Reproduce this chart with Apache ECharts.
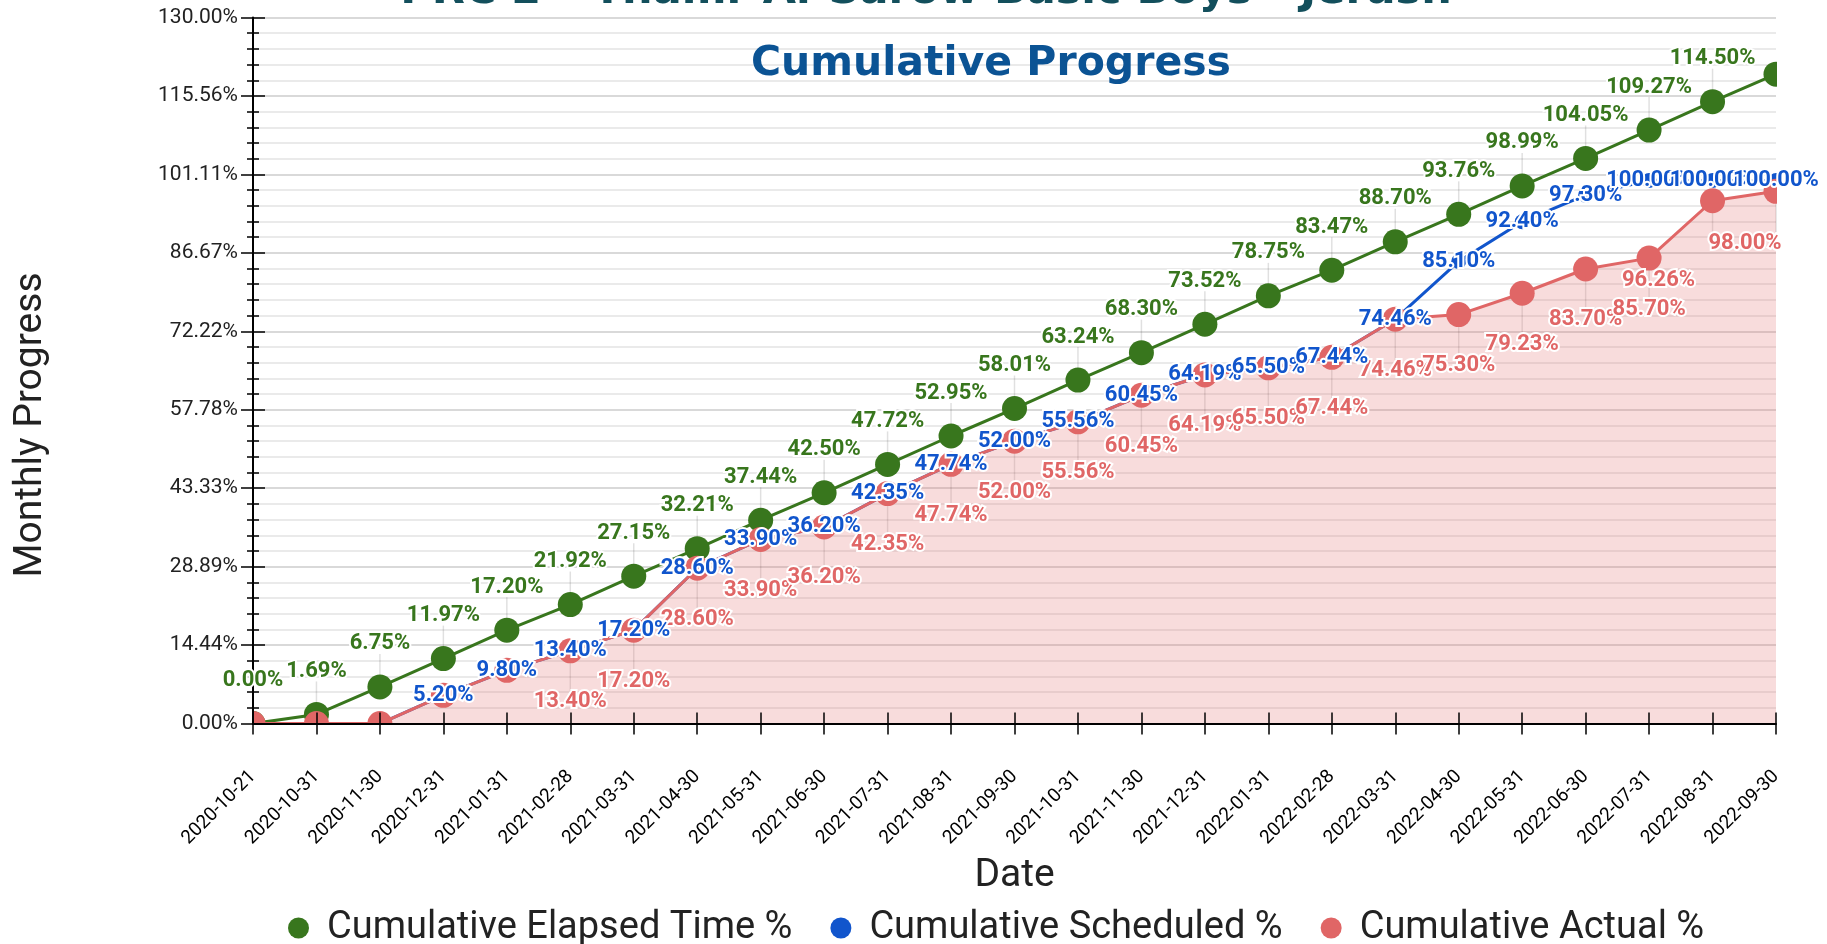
<!DOCTYPE html>
<html>
<head>
<meta charset="utf-8">
<script src="https://cdn.jsdelivr.net/npm/echarts@6/dist/echarts.min.js"></script>
<style>
  html, body { margin: 0; padding: 0; background: #fff; }
  #main { width: 1827px; height: 944px; }
</style>
</head>
<body>
<div id="main"></div>
<script>
// data
var dates = [
  "2020-10-21", "2020-10-31", "2020-11-30", "2020-12-31", "2021-01-31",
  "2021-02-28", "2021-03-31", "2021-04-30", "2021-05-31", "2021-06-30",
  "2021-07-31", "2021-08-31", "2021-09-30", "2021-10-31", "2021-11-30",
  "2021-12-31", "2022-01-31", "2022-02-28", "2022-03-31", "2022-04-30",
  "2022-05-31", "2022-06-30", "2022-07-31", "2022-08-31", "2022-09-30"
];
var elapsed = [0, 1.69, 6.75, 11.97, 17.20, 21.92, 27.15, 32.21, 37.44, 42.50,
  47.72, 52.95, 58.01, 63.24, 68.30, 73.52, 78.75, 83.47, 88.70, 93.76,
  98.99, 104.05, 109.27, 114.50, 119.56];
var scheduled = [0, 0, 0, 5.20, 9.80, 13.40, 17.20, 28.60, 33.90, 36.20,
  42.35, 47.74, 52.00, 55.56, 60.45, 64.19, 65.50, 67.44, 74.46, 85.10,
  92.40, 97.30, 100.00, 100.00, 100.00];
var actual = [0, 0, 0, 5.20, 9.80, 13.40, 17.20, 28.60, 33.90, 36.20,
  42.35, 47.74, 52.00, 55.56, 60.45, 64.19, 65.50, 67.44, 74.46, 75.30,
  79.23, 83.70, 85.70, 96.26, 98.00];
var yMax = 130;
var ySteps = 9;

var GREEN = "#38761d", BLUE = "#1155cc", RED = "#e06666";
var GRID = { left: 253, right: 51, top: 17.5, bottom: 220.4 };
var W = 1827, H = 944;

var chart = echarts.init(document.getElementById("main"));

function pct(v) { return v.toFixed(2) + "%"; }

// which annotations the original showed
function showGreen(i) { return i !== elapsed.length - 1; }
function showRed(v) { return v >= 11; }   // lower ones would fall under the axis
function showBlue(v) { return v !== 0; }

var labelBase = {
  show: true,
  position: "inside",
  fontFamily: "Roboto",
  fontWeight: "bold",
  fontSize: 22,
  textBorderColor: "#fff",
  textBorderWidth: 4
};

// red labels near the right edge were pushed left in the original
var redShift = { 23: [-54, 80], 24: [-31, 52] };

var yBase = { type: "value", min: 0, max: yMax, interval: yMax / ySteps, position: "left" };
var xBase = { type: "category", data: dates, boundaryGap: false, position: "bottom" };
var tickStyle = { color: "#000", width: 1.5 };

function pairs(arr) { return arr.map(function (v, i) { return [i, v]; }); }

function stem(dy0, dy1, keep) {
  return function (params, api) {
    var i = api.value(0), v = api.value(1);
    if (!keep(v, i)) return null;
    var p = api.coord([i, v]);
    return {
      type: "line",
      shape: { x1: p[0], y1: p[1] + dy0, x2: p[0], y2: p[1] + dy1 },
      style: { stroke: "rgba(0,0,0,0.12)", lineWidth: 1.5 }
    };
  };
}

// label-only carrier series, drawn above the edge masks and axes
function labelSeries(name, values, z, color, offset, fmt) {
  return {
    name: name,
    type: "line",
    z: z,
    data: values,
    symbol: "circle",
    symbolSize: 0,
    itemStyle: { color: "rgba(0,0,0,0)" },
    lineStyle: { width: 0, opacity: 0 },
    label: Object.assign({}, labelBase, { color: color, offset: offset, formatter: fmt })
  };
}

var maskStyle = { fill: "#fff" };

var option = {
  animation: false,
  graphic: [
    // white masks that cut the markers off at the plot border
    { type: "rect", z: 5, shape: { x: 0, y: H - GRID.bottom + 1, width: W, height: 16 }, style: maskStyle },
    { type: "rect", z: 5, shape: { x: 0, y: 0, width: GRID.left - 1, height: H - GRID.bottom + 17 }, style: maskStyle },
    { type: "rect", z: 5, shape: { x: W - GRID.right + 1, y: 0, width: GRID.right, height: H - GRID.bottom + 17 }, style: maskStyle },
    { type: "rect", z: 5, shape: { x: 0, y: 0, width: W, height: GRID.top - 1 }, style: maskStyle },
    {
      type: "text", z: 20, x: 926, y: 13,
      style: {
        text: "PRC 2 – Thamr Al-Sarow Basic Boys - Jerash",
        fill: "#134f5c", font: "bold 43px 'DejaVu Sans'",
        textAlign: "center", textVerticalAlign: "bottom"
      }
    },
    {
      type: "text", z: 20, x: 991, y: 64,
      style: {
        text: "Cumulative Progress",
        fill: "#0b5394", font: "bold 41px 'DejaVu Sans'",
        textAlign: "center", textVerticalAlign: "middle"
      }
    },
    {
      type: "text", z: 20, x: 31, y: 425, rotation: Math.PI / 2,
      style: {
        text: "Monthly Progress",
        fill: "#222", font: "39px Roboto",
        textAlign: "center", textVerticalAlign: "middle"
      }
    }
  ],
  grid: { left: GRID.left, right: GRID.right, top: GRID.top, bottom: GRID.bottom, containLabel: false },
  legend: {
    z: 10,
    left: 283,
    top: 904,
    icon: "circle",
    itemWidth: 21,
    itemHeight: 21,
    itemGap: 38,
    textStyle: { fontFamily: "Roboto", fontSize: 38, color: "#222", padding: [0, 0, 0, 13] },
    data: ["Cumulative Elapsed Time %", "Cumulative Scheduled %", "Cumulative Actual %"]
  },
  xAxis: [
    Object.assign({}, xBase, {
      z: 10,
      name: "Date",
      nameLocation: "middle",
      nameGap: 133,
      nameTextStyle: { fontFamily: "Roboto", fontSize: 39, color: "#222" },
      axisLine: { lineStyle: { color: "#000", width: 2 } },
      axisTick: { show: true, interval: 0, length: 11, lineStyle: tickStyle },
      axisLabel: { interval: 0, rotate: 45, margin: 50, fontFamily: "Roboto", fontSize: 19, color: "#000" },
      splitLine: { show: false }
    }),
    Object.assign({}, xBase, {
      z: 10,
      axisLine: { show: false },
      axisTick: { show: true, inside: true, interval: 0, length: 11, lineStyle: tickStyle },
      axisLabel: { show: false },
      splitLine: { show: false }
    })
  ],
  yAxis: [
    // grid lines only, below the series
    Object.assign({}, yBase, {
      axisLine: { show: false },
      axisTick: { show: false },
      axisLabel: { show: false },
      splitLine: { show: true, lineStyle: { color: "#cccccc", width: 1.5 } },
      minorTick: { show: false, splitNumber: 5 },
      minorSplitLine: { show: true, lineStyle: { color: "#e3e3e3", width: 1.5 } }
    }),
    Object.assign({}, yBase, {
      z: 10,
      axisLine: { show: true, lineStyle: { color: "#000", width: 2 } },
      axisTick: { show: true, length: 12, lineStyle: tickStyle },
      minorTick: { show: true, splitNumber: 5, length: 6, lineStyle: tickStyle },
      axisLabel: { margin: 15, fontFamily: "Roboto", fontSize: 21, color: "#222", formatter: pct },
      splitLine: { show: false }
    }),
    Object.assign({}, yBase, {
      z: 10,
      axisLine: { show: false },
      axisTick: { show: true, inside: true, length: 12, lineStyle: tickStyle },
      minorTick: { show: true, splitNumber: 5, length: 6, lineStyle: tickStyle },
      axisLabel: { show: false },
      splitLine: { show: false }
    })
  ],
  series: [
    {
      name: "stemsGreen", type: "custom", z: 1, silent: true,
      data: pairs(elapsed),
      renderItem: stem(-12, -33, function (v, i) { return showGreen(i); })
    },
    {
      name: "stemsRed", type: "custom", z: 1, silent: true,
      data: pairs(actual),
      renderItem: stem(12, 41, function (v) { return showRed(v); })
    },
    {
      name: "Cumulative Scheduled %",
      type: "line",
      z: 2,
      data: scheduled,
      symbol: "circle",
      symbolSize: 15,
      itemStyle: { color: BLUE },
      lineStyle: { color: BLUE, width: 3 }
    },
    {
      name: "Cumulative Elapsed Time %",
      type: "line",
      z: 3,
      data: elapsed,
      symbol: "circle",
      symbolSize: 25,
      itemStyle: { color: GREEN },
      lineStyle: { color: GREEN, width: 3 }
    },
    {
      name: "Cumulative Actual %",
      type: "line",
      z: 4,
      data: actual,
      symbol: "circle",
      symbolSize: 25,
      itemStyle: { color: RED },
      lineStyle: { color: RED, width: 3 },
      areaStyle: { color: "rgba(224,102,102,0.33)" }
    },
    labelSeries("lblGreen", elapsed, 11, GREEN, [0, -43],
      function (p) { return showGreen(p.dataIndex) ? pct(p.value) : ""; }),
    labelSeries("lblRed", actual.map(function (v, i) {
        var item = { value: v };
        if (redShift[i]) item.label = { offset: redShift[i] };
        return item;
      }), 11, RED, [0, 51],
      function (p) { return showRed(p.value) ? pct(p.value) : ""; }),
    labelSeries("lblBlue", scheduled, 12, BLUE, [0, 0],
      function (p) { return showBlue(p.value) ? pct(p.value) : ""; })
  ]
};

chart.setOption(option);
</script>
</body>
</html>
